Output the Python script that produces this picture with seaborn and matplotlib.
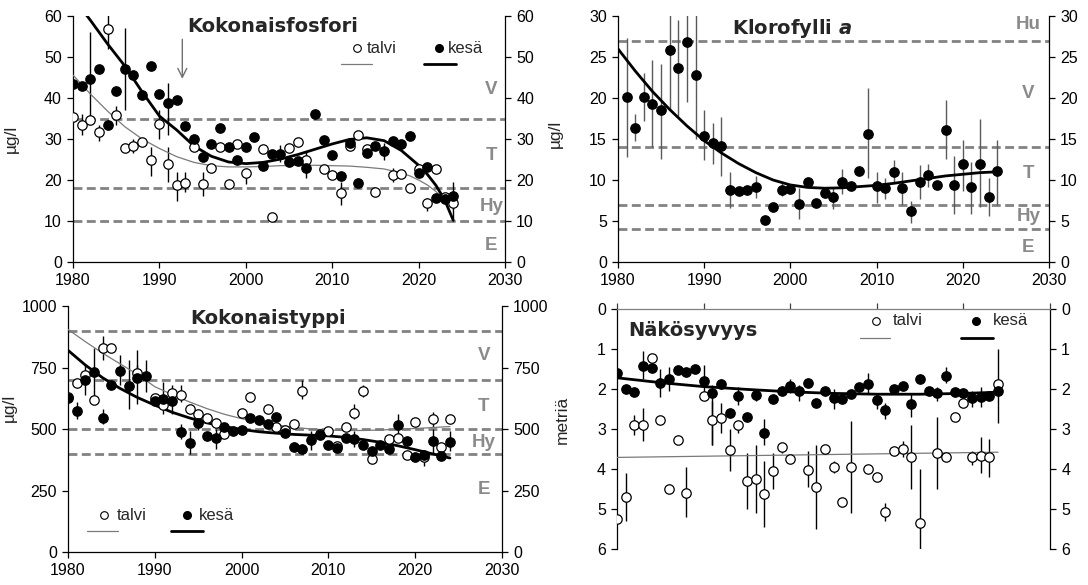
import numpy as np
import pandas as pd
import matplotlib
matplotlib.use("Agg")
import matplotlib.pyplot as plt
import seaborn as sns

nan = np.nan

# ---------------------------------------------------------------- data
YEARS = list(range(1980, 2025))
X_TICKS = [1980, 1990, 2000, 2010, 2020, 2030]

# Kokonaisfosfori (µg/l)
p_kesa = [43.5, 43.0, 44.7, 47.1, 33.5, 41.8, 47.1, 45.7, 40.7, 47.9,
          41.0, 38.7, 39.5, 33.1, 30.1, 25.6, 28.9, 32.8, 28.0, 24.8,
          28.1, 30.4, 23.4, 26.3, 26.4, 24.4, 24.7, 23.0, 36.2, 29.8,
          26.2, 21.1, 29.1, 19.3, 26.6, 28.3, 27.1, 29.6, 28.7, 30.7,
          21.8, 23.2, 15.7, 15.4, 16.2]
p_talvi = [35.4, 33.3, 34.6, 31.7, 56.8, 35.8, 27.7, 28.2, 29.3, 24.8,
           33.6, 23.8, 18.9, 19.3, 28.0, 19.1, 23.0, 28.0, 19.1, 28.7,
           21.7, nan, 27.5, 11.0, nan, 27.7, 29.3, 24.9, nan, 22.8,
           21.2, 16.8, 28.3, 31.0, 27.5, 17.1, nan, 21.2, 21.4, 18.1,
           22.8, 14.3, 22.8, 15.8, 14.3]
p_kesa_bar_years = [1982, 1986, 1991, 2004, 2007, 2016, 2024]
p_kesa_bar_lo = [34.0, 37.0, 31.0, 24.5, 20.5, 25.0, 13.0]
p_kesa_bar_hi = [56.0, 57.0, 43.6, 28.5, 27.0, 29.0, 19.5]
p_talvi_bar_years = [1981, 1983, 1984, 1985, 1987, 1989, 1990, 1991, 1992,
                     1993, 1995, 2000, 2011, 2017, 2021, 2024]
p_talvi_bar_lo = [31.0, 29.5, 52.0, 33.5, 26.5, 21.0, 30.0, 19.5, 15.0,
                  17.0, 16.0, 19.0, 14.0, 19.5, 12.5, 10.0]
p_talvi_bar_hi = [36.0, 33.5, 62.0, 38.0, 30.0, 28.0, 37.0, 28.0, 22.0,
                  22.0, 22.0, 23.0, 19.5, 23.0, 15.5, 16.0]
p_trend_years = [1980, 1982, 1984, 1986, 1988, 1990, 1992, 1994, 1996, 1998,
                 2000, 2002, 2004, 2006, 2008, 2010, 2012, 2014, 2016, 2018,
                 2019, 2020, 2021, 2022, 2023, 2024]
p_kesa_trend = [64.5, 59.0, 53.2, 47.8, 41.5, 35.6, 32.2, 28.3, 25.8, 24.4,
                24.0, 24.3, 25.1, 26.2, 27.5, 28.8, 29.9, 30.3, 29.6, 27.2,
                25.4, 23.6, 21.4, 18.7, 15.2, 10.2]
p_talvi_trend = [45.6, 41.0, 36.8, 33.0, 30.0, 27.7, 25.7, 24.3, 23.5, 23.2,
                 23.2, 23.3, 23.5, 23.6, 23.6, 23.5, 23.4, 23.1, 22.7, 21.7,
                 21.0, 20.0, 18.8, 17.2, 15.0, nan]
p_limits = [35, 18, 10]
p_classes = ["V", "T", "Hy", "E"]
p_class_y = [42, 26, 13.5, 4]

# Klorofylli a (µg/l)
c_kesa = [nan, 20.1, 16.3, 20.1, 19.3, 18.5, 25.8, 23.7, 26.8, 22.8,
          15.4, 14.5, 14.1, 8.8, 8.7, 8.8, 9.1, 5.1, 6.7, 8.8,
          8.9, 7.1, 9.7, 7.2, 8.4, 7.9, 9.8, 9.3, 11.1, 15.6,
          9.3, 9.0, 11.0, 9.0, 6.2, 9.8, 10.6, 9.4, 16.1, 9.4,
          11.9, 9.1, 12.0, 7.9, 11.1]
c_bar_years = [1981, 1982, 1983, 1984, 1985, 1986, 1987, 1988, 1989, 1990,
               1991, 1992, 1993, 1996, 1999, 2001, 2005, 2006, 2009, 2010,
               2011, 2012, 2013, 2014, 2015, 2016, 2018, 2019, 2020, 2021,
               2022, 2023, 2024]
c_bar_lo = [12.8, 14.7, 17.2, 14.0, 12.6, 18.5, 17.8, 19.5, 15.0, 12.5,
            12.0, 10.5, 6.6, 7.8, 8.0, 5.3, 6.5, 8.3, 10.2, 7.2,
            7.7, 9.6, 7.0, 4.8, 7.7, 9.2, 12.6, 5.9, 8.7, 5.9,
            6.7, 5.6, 6.9]
c_bar_hi = [27.3, 18.0, 23.0, 24.6, 24.2, 31.0, 29.5, 31.0, 31.0, 18.5,
            17.0, 17.7, 11.0, 10.5, 9.6, 9.0, 9.0, 11.3, 21.2, 11.0,
            10.2, 12.4, 11.0, 7.4, 11.8, 12.0, 19.7, 12.9, 14.9, 12.2,
            17.4, 10.2, 14.9]
c_trend_years = list(range(1980, 2025, 2))
c_trend = [26.0, 23.3, 20.8, 18.6, 16.6, 14.8, 13.3, 12.0, 10.9, 10.0,
           9.4, 9.1, 9.0, 9.05, 9.2, 9.35, 9.6, 9.9, 10.2, 10.5,
           10.7, 10.9, 11.0]
c_limits = [27, 14, 7, 4]
c_classes = ["Hu", "V", "T", "Hy", "E"]
c_class_y = [29, 20.5, 10.8, 5.5, 1.8]

# Kokonaistyppi (µg/l)
n_kesa = [626, 573, 700, 732, 545, 680, 734, 673, 709, 714,
          612, 621, 614, 488, 444, 526, 472, 463, 508, 492,
          495, 545, 538, 522, 549, 484, 427, 417, 454, 474,
          434, 423, 465, 458, 434, 409, 434, 419, 516, 450,
          387, 394, 452, 389, 448]
n_talvi = [630, 688, 718, 619, 831, 831, nan, nan, 728, nan,
           626, 599, 646, 640, 580, 560, 545, 524, 481, nan,
           565, 630, nan, 580, 508, 495, 519, 654, nan, 481,
           492, 430, 508, 566, 654, 379, nan, 458, 465, 394,
           530, 386, 539, 425, 539]
n_kesa_bar_years = [1981, 1982, 1983, 1984, 1986, 1987, 1988, 1989, 1991,
                    1992, 1993, 1994, 1995, 1997, 2008, 2013, 2018, 2022, 2024]
n_kesa_bar_lo = [540, 640, 620, 520, 680, 580, 600, 650, 560,
                 560, 460, 400, 495, 420, 415, 425, 460, 400, 410]
n_kesa_bar_hi = [610, 760, 830, 580, 800, 780, 820, 780, 690,
                 680, 520, 490, 560, 500, 490, 490, 560, 500, 490]
n_talvi_bar_years = [1984, 1988, 1993, 2007, 2013, 2014, 2021, 2022]
n_talvi_bar_lo = [780, 700, 610, 620, 540, 630, 350, 510]
n_talvi_bar_hi = [880, 760, 680, 700, 600, 680, 400, 570]
n_trend_years = list(range(1980, 2025, 2))
n_kesa_trend = [820, 760, 708, 665, 628, 597, 568, 545, 525, 510,
                498, 489, 483, 478, 475, 472, 466, 457, 446, 432,
                416, 399, 382]
n_talvi_trend = [905, 855, 808, 765, 722, 672, 640, 610, 583, 560,
                 542, 528, 516, 507, 500, 496, 494, 494, 496, 499,
                 502, 506, 510]
n_limits = [900, 700, 500, 400]
n_classes = ["V", "T", "Hy", "E"]
n_class_y = [797, 593, 447, 255]

# Näkösyvyys (m)
s_kesa = [1.61, 2.00, 2.08, 1.43, 1.47, 1.86, 1.75, 1.53, 1.58, 1.50,
          1.79, 2.11, 1.88, 2.59, 2.18, 2.69, 2.15, 3.09, 2.25, 2.05,
          1.92, 2.05, 1.84, 2.36, 2.04, 2.23, 2.26, 2.13, 1.96, 1.88,
          2.28, 2.53, 2.00, 1.92, 2.38, 1.75, 2.04, 2.11, 1.67, 2.08,
          2.11, 2.23, 2.21, 2.18, 2.04]
s_talvi = [5.25, 4.71, 2.90, 2.90, 1.22, 2.78, 4.51, 3.28, 4.61, nan,
           2.17, 2.78, 2.73, 3.53, 2.90, 4.30, 4.26, 4.63, 4.05, 3.46,
           3.75, nan, 4.03, 4.46, 3.50, 3.94, 4.82, 3.94, nan, 4.00,
           4.19, 5.07, 3.54, 3.50, 3.71, 5.36, nan, 3.61, 3.71, 2.69,
           2.36, 3.71, 3.67, 3.71, 1.88]
s_kesa_bar_years = [1983, 1985, 1986, 1990, 1991, 1992, 1994, 1996, 1997,
                    2000, 2001, 2005, 2009, 2010, 2011, 2014, 2017, 2018,
                    2021, 2022, 2024]
s_kesa_bar_lo = [1.05, 1.50, 1.45, 1.40, 1.90, 1.75, 1.95, 2.00, 2.75,
                 1.75, 1.90, 2.00, 1.60, 2.10, 2.35, 2.10, 1.95, 1.45,
                 2.05, 1.95, 1.00]
s_kesa_bar_hi = [1.75, 2.20, 2.05, 2.10, 3.40, 2.00, 2.40, 2.30, 3.40,
                 2.10, 2.30, 2.50, 2.10, 2.50, 2.75, 2.70, 2.30, 1.85,
                 2.45, 2.45, 2.85]
s_talvi_bar_years = [1981, 1982, 1983, 1988, 1991, 1992, 1993, 1994, 1995,
                     1996, 1997, 1998, 1999, 2002, 2003, 2005, 2007, 2011,
                     2013, 2014, 2015, 2017, 2021, 2022, 2023]
s_talvi_bar_lo = [4.10, 2.65, 2.48, 3.95, 2.30, 2.35, 3.00, 2.80, 3.60,
                  3.40, 3.80, 3.60, 3.35, 3.55, 3.40, 3.80, 2.80, 4.85,
                  3.30, 2.90, 4.00, 2.70, 3.55, 3.20, 3.25]
s_talvi_bar_hi = [5.30, 3.15, 3.30, 5.20, 3.40, 3.10, 4.05, 3.10, 5.00,
                  5.10, 5.45, 4.50, 3.60, 4.45, 5.50, 4.10, 5.10, 5.30,
                  3.70, 4.50, 6.00, 4.50, 3.90, 4.10, 4.20]
s_trend_years = [1980, 1985, 1990, 1995, 2000, 2005, 2010, 2015, 2020, 2024]
s_kesa_trend = [1.72, 1.84, 1.94, 2.01, 2.07, 2.11, 2.13, 2.13, 2.11, 2.08]
s_talvi_trend_years = [1980, 2024]
s_talvi_trend = [3.71, 3.58]

# ---------------------------------------------------------------- style
sns.set_theme(style="ticks")
plt.rcParams["font.family"] = ["Liberation Sans", "DejaVu Sans"]
plt.rcParams["axes.linewidth"] = 0.9

CLASS_GREY = "#8a8a8a"
DASH_GREY = "#828282"
THIN_GREY = "#7a7a7a"
TITLE_FONT = dict(family="DejaVu Sans", fontsize=14, fontweight="bold")

fig = plt.figure(figsize=(10.88, 5.85), dpi=100)
ax_p = fig.add_axes([0.0671, 0.5521, 0.3971, 0.4205])
ax_c = fig.add_axes([0.5680, 0.5521, 0.3961, 0.4205])
ax_n = fig.add_axes([0.0625, 0.0564, 0.3989, 0.4205])
ax_s = fig.add_axes([0.5671, 0.0615, 0.3980, 0.4103])


def points(ax, years, values, filled):
    df = pd.DataFrame({"vuosi": years, "arvo": values}).dropna()
    sns.scatterplot(data=df, x="vuosi", y="arvo", ax=ax, marker="o", s=46,
                    color="black" if filled else "white",
                    edgecolor="black", linewidth=0.9, zorder=5, legend=False)


def bars(ax, years, lo, hi, color="black"):
    ax.vlines(years, lo, hi, color=color, lw=1.0, zorder=3)


def trend(ax, years, values, thick):
    df = pd.DataFrame({"vuosi": years, "arvo": values}).dropna()
    sns.lineplot(data=df, x="vuosi", y="arvo", ax=ax,
                 color="black" if thick else THIN_GREY,
                 lw=2.0 if thick else 0.9, zorder=4, legend=False)


def class_lines(ax, limits, labels, label_y, label_x):
    for lim in limits:
        ax.axhline(lim, color=DASH_GREY, lw=2.0, dashes=(3.2, 1.6), zorder=2)
    for lab, y in zip(labels, label_y):
        ax.text(label_x, y, lab, color=CLASS_GREY, fontsize=13.5,
                fontweight="bold", ha="center", va="center", zorder=6)


def frame(ax, ylim, yticks, ylabel, label_xy):
    ax.set_xlim(1980, 2030)
    ax.set_ylim(*ylim)
    ax.set_xticks(X_TICKS)
    ax.set_yticks(yticks)
    ax.set_xlabel("")
    ax.set_ylabel(ylabel, fontsize=12.5)
    ax.yaxis.set_label_coords(*label_xy)
    ax.spines["top"].set_visible(False)
    ax.spines["right"].set_visible(True)
    for s in ax.spines.values():
        s.set_color("black")
    ax.tick_params(axis="both", direction="out", length=4, width=0.9,
                   labelsize=11.5, colors="black", pad=4)
    ax.tick_params(axis="y", right=True, labelright=True)
    ax.grid(False)


def legend_block(ax, x_open, x_filled, y_mark, y_line, span_open, span_filled,
                 gap):
    ax.plot([x_open], [y_mark], marker="o", ms=5.5, mfc="white", mec="black",
            mew=0.8, ls="none", zorder=6)
    ax.text(x_open + gap, y_mark, "talvi", fontsize=12, va="center", ha="left")
    ax.plot(span_open, [y_line, y_line], color=THIN_GREY, lw=0.9)
    ax.plot([x_filled], [y_mark], marker="o", ms=5.5, mfc="black", mec="black",
            ls="none", zorder=6)
    ax.text(x_filled + gap, y_mark, "kesä", fontsize=12, va="center", ha="left")
    ax.plot(span_filled, [y_line, y_line], color="black", lw=2.0)


# ---------------------------------------------------------------- Kokonaisfosfori
ax = ax_p
class_lines(ax, p_limits, p_classes, p_class_y, 2028.4)
bars(ax, p_talvi_bar_years, p_talvi_bar_lo, p_talvi_bar_hi)
bars(ax, p_kesa_bar_years, p_kesa_bar_lo, p_kesa_bar_hi)
trend(ax, p_trend_years, p_talvi_trend, thick=False)
trend(ax, p_trend_years, p_kesa_trend, thick=True)
points(ax, YEARS, p_talvi, filled=False)
points(ax, YEARS, p_kesa, filled=True)
frame(ax, (0, 60), range(0, 61, 10), "µg/l", (-0.125, 0.5))
ax.text(1993.2, 57.4, "Kokonaisfosfori", ha="left", va="center", **TITLE_FONT)
ax.annotate("", xy=(1992.65, 44.0), xytext=(1992.65, 55.0),
            arrowprops=dict(arrowstyle="->", color="#707070", lw=1.0,
                            mutation_scale=16))
legend_block(ax, 2012.9, 2022.3, 52.2, 48.4, [2011.05, 2014.55],
             [2020.6, 2024.3], 1.1)

# ---------------------------------------------------------------- Klorofylli a
ax = ax_c
class_lines(ax, c_limits, c_classes, c_class_y, 2027.6)
bars(ax, c_bar_years, c_bar_lo, c_bar_hi, color="#5a5a5a")
trend(ax, c_trend_years, c_trend, thick=True)
points(ax, YEARS, c_kesa, filled=True)
frame(ax, (0, 30), range(0, 31, 5), "µg/l", (-0.127, 0.52))
ax.text(1993.2, 28.5, "Klorofylli $\\boldsymbol{a}$", ha="left", va="center",
        **TITLE_FONT)

# ---------------------------------------------------------------- Kokonaistyppi
ax = ax_n
class_lines(ax, n_limits, n_classes, n_class_y, 2027.9)
bars(ax, n_talvi_bar_years, n_talvi_bar_lo, n_talvi_bar_hi)
bars(ax, n_kesa_bar_years, n_kesa_bar_lo, n_kesa_bar_hi)
trend(ax, n_trend_years, n_talvi_trend, thick=False)
trend(ax, n_trend_years, n_kesa_trend, thick=True)
points(ax, YEARS, n_talvi, filled=False)
points(ax, YEARS, n_kesa, filled=True)
frame(ax, (0, 1000), [0, 250, 500, 750, 1000], "µg/l", (-0.118, 0.585))
ax.text(1994.05, 950, "Kokonaistyppi", ha="left", va="center", **TITLE_FONT)
legend_block(ax, 1984.2, 1993.7, 150, 85, [1982.2, 1985.8],
             [1991.85, 1995.5], 1.4)

# ---------------------------------------------------------------- Näkösyvyys
ax = ax_s
bars(ax, s_talvi_bar_years, s_talvi_bar_lo, s_talvi_bar_hi)
bars(ax, s_kesa_bar_years, s_kesa_bar_lo, s_kesa_bar_hi)
trend(ax, s_talvi_trend_years, s_talvi_trend, thick=False)
trend(ax, s_trend_years, s_kesa_trend, thick=True)
points(ax, YEARS, s_talvi, filled=False)
points(ax, YEARS, s_kesa, filled=True)
frame(ax, (6, 0), range(0, 7), "metriä", (-0.108, 0.54))
ax.spines["top"].set_visible(True)
ax.spines["top"].set_color("#808080")
ax.spines["bottom"].set_visible(False)
ax.xaxis.tick_top()
ax.tick_params(axis="x", top=True, bottom=False, labeltop=False,
               labelbottom=False, length=4, color="#404040")
ax.text(1981.3, 0.53, "Näkösyvyys", ha="left", va="center", **TITLE_FONT)
legend_block(ax, 2009.9, 2021.5, 0.30, 0.72, [2008.1, 2011.55],
             [2019.7, 2023.4], 1.9)

fig.savefig("out.png", dpi=100)
